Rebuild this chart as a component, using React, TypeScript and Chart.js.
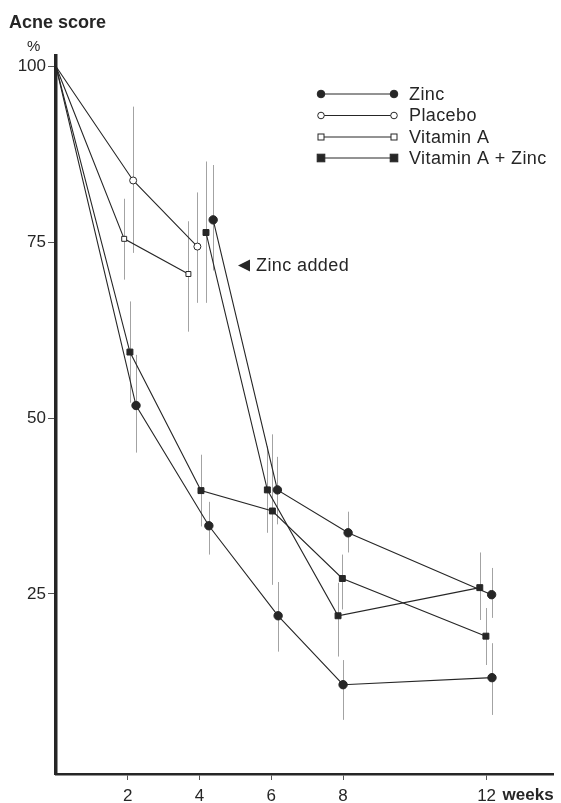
import React, { useEffect, useRef } from 'react';
import { Chart, registerables } from 'chart.js';

Chart.register(...registerables);

// ---- data ----
const xTickValues = [2, 4, 6, 8, 12];
const yTickValues = [25, 50, 75, 100];

const zincWeeks = [0, 2.23, 4.26, 6.19, 8.0, 12.15];
const zincScore = [100, 51.8, 34.7, 21.9, 12.1, 13.1];
const zincLow = [null, 45.1, 30.6, 16.8, 7.1, 7.8];
const zincHigh = [null, 59.0, 38.1, 26.7, 15.6, 18.0];

const vitAZincWeeks = [0, 2.06, 4.04, 6.03, 7.98, 11.98];
const vitAZincScore = [100, 59.4, 39.7, 36.8, 27.2, 19.0];
const vitAZincLow = [null, 52.2, 34.6, 26.3, 22.8, 14.9];
const vitAZincHigh = [null, 66.6, 44.8, 47.7, 30.6, 23.0];

const placeboWeeks = [0, 2.15, 3.94];
const placeboScore = [100, 83.8, 74.4];
const placeboLow = [null, 73.5, 66.4];
const placeboHigh = [null, 94.3, 82.1];

const placeboZincAddedWeeks = [4.38, 6.17, 8.14, 12.14];
const placeboZincAddedScore = [78.2, 39.8, 33.7, 24.9];
const placeboZincAddedLow = [71.0, 34.9, 30.9, 21.6];
const placeboZincAddedHigh = [86.0, 44.5, 36.7, 28.7];

const vitAWeeks = [0, 1.9, 3.69];
const vitAScore = [100, 75.5, 70.5];
const vitALow = [null, 69.7, 62.3];
const vitAHigh = [null, 81.2, 78.0];

const vitAZincAddedWeeks = [4.18, 5.89, 7.86, 11.81];
const vitAZincAddedScore = [76.4, 39.8, 21.9, 25.9];
const vitAZincAddedLow = [66.4, 33.7, 16.1, 21.3];
const vitAZincAddedHigh = [86.5, 46.0, 26.6, 30.9];

const legendLabels = ['Zinc', 'Placebo', 'Vitamin A', 'Vitamin A + Zinc'];

const INK = '#262626';
const FONT = '"Liberation Sans", Arial, Helvetica, sans-serif';

type Series = {
  weeks: number[];
  score: number[];
  low: (number | null)[];
  high: (number | null)[];
  shape: 'circle' | 'rect';
  filled: boolean;
};

const series: Series[] = [
  { weeks: zincWeeks, score: zincScore, low: zincLow, high: zincHigh, shape: 'circle', filled: true },
  { weeks: vitAZincWeeks, score: vitAZincScore, low: vitAZincLow, high: vitAZincHigh, shape: 'rect', filled: true },
  { weeks: placeboWeeks, score: placeboScore, low: placeboLow, high: placeboHigh, shape: 'circle', filled: false },
  { weeks: placeboZincAddedWeeks, score: placeboZincAddedScore, low: placeboZincAddedLow, high: placeboZincAddedHigh, shape: 'circle', filled: true },
  { weeks: vitAWeeks, score: vitAScore, low: vitALow, high: vitAHigh, shape: 'rect', filled: false },
  { weeks: vitAZincAddedWeeks, score: vitAZincAddedScore, low: vitAZincAddedLow, high: vitAZincAddedHigh, shape: 'rect', filled: true },
];

const legendMarkers: { shape: 'circle' | 'rect'; filled: boolean }[] = [
  { shape: 'circle', filled: true },
  { shape: 'circle', filled: false },
  { shape: 'rect', filled: false },
  { shape: 'rect', filled: true },
];

function drawMarker(ctx: CanvasRenderingContext2D, x: number, y: number, shape: string, filled: boolean) {
  ctx.save();
  ctx.lineWidth = 1;
  ctx.strokeStyle = INK;
  ctx.fillStyle = filled ? INK : '#fff';
  if (shape === 'circle') {
    ctx.beginPath();
    ctx.arc(x, y, filled ? 3.8 : 3.3, 0, Math.PI * 2);
    ctx.fill();
    ctx.stroke();
  } else {
    const h = filled ? 3.8 : 3;
    ctx.fillRect(x - h, y - h, 2 * h, 2 * h);
    ctx.strokeRect(x - h, y - h, 2 * h, 2 * h);
  }
  ctx.restore();
}

const errorBarPlugin = {
  id: 'errorBars',
  beforeDatasetsDraw(chart: any) {
    const { ctx, scales } = chart;
    const xs = scales.x;
    const ys = scales.y;
    ctx.save();
    ctx.strokeStyle = '#a3a3a3';
    ctx.lineWidth = 1;
    series.forEach((s) => {
      s.weeks.forEach((w, i) => {
        const lo = s.low[i];
        const hi = s.high[i];
        if (lo == null || hi == null) return;
        const px = Math.round(xs.getPixelForValue(w)) + 0.5;
        ctx.beginPath();
        ctx.moveTo(px, ys.getPixelForValue(hi));
        ctx.lineTo(px, ys.getPixelForValue(lo));
        ctx.stroke();
      });
    });
    ctx.restore();
  },
};

const annotationPlugin = {
  id: 'annotations',
  afterDraw(chart: any) {
    const { ctx, scales } = chart;
    const xs = scales.x;
    ctx.save();
    ctx.fillStyle = INK;
    ctx.textBaseline = 'middle';
    ctx.textAlign = 'left';

    // y axis title
    ctx.font = `bold 18px ${FONT}`;
    ctx.fillText('Acne score', 9, 23);
    ctx.font = `15px ${FONT}`;
    ctx.fillText('%', 27, 47);

    // x axis unit after 12
    ctx.font = `bold 17px ${FONT}`;
    ctx.fillText('weeks', xs.getPixelForValue(12) + 16, chart.chartArea.bottom + 21);

    // Zinc added annotation
    ctx.beginPath();
    ctx.moveTo(238, 265.5);
    ctx.lineTo(250, 259.5);
    ctx.lineTo(250, 271.5);
    ctx.closePath();
    ctx.fill();
    ctx.font = `18px ${FONT}`;
    (ctx as any).letterSpacing = '0.4px';
    ctx.fillText('Zinc added', 256, 266);

    // legend
    const rowY = [94, 115.5, 137, 158];
    legendLabels.forEach((lab, i) => {
      const y = rowY[i];
      ctx.strokeStyle = INK;
      ctx.lineWidth = 1;
      ctx.beginPath();
      ctx.moveTo(321, y);
      ctx.lineTo(394, y);
      ctx.stroke();
      drawMarker(ctx, 321, y, legendMarkers[i].shape, legendMarkers[i].filled);
      drawMarker(ctx, 394, y, legendMarkers[i].shape, legendMarkers[i].filled);
      ctx.fillStyle = INK;
      ctx.font = `18px ${FONT}`;
      ctx.fillText(lab, 409, y + 1);
    });
    ctx.restore();
  },
};

export default function App() {
  const ref = useRef<HTMLCanvasElement>(null);

  useEffect(() => {
    const canvas = ref.current;
    if (!canvas) return;
    Chart.defaults.font.family = FONT;

    const datasets = series.map((s, k) => {
      const r = s.filled ? 4.2 : 3.5;
      return {
        label: 'series' + k,
        data: s.weeks.map((w, i) => ({ x: w, y: s.score[i] })),
        borderColor: INK,
        borderWidth: 1.1,
        backgroundColor: INK,
        pointStyle: s.shape,
        // the week-0 start point carries no marker: lines start on the axis
        pointRadius: s.weeks.map((w) => (w === 0 ? 0 : r)),
        pointBackgroundColor: s.filled ? INK : '#fff',
        pointBorderColor: INK,
        pointBorderWidth: 1,
        fill: false,
        tension: 0,
        clip: false as any,
      };
    });

    const chart = new Chart(canvas, {
      type: 'line',
      data: { datasets: datasets as any },
      options: {
        responsive: false,
        animation: false,
        devicePixelRatio: 1,
        layout: { padding: { top: 56, right: 8, left: 0, bottom: 0 } },
        plugins: { legend: { display: false }, tooltip: { enabled: false } },
        scales: {
          x: {
            type: 'linear',
            min: 0,
            max: 13.85,
            afterBuildTicks: (s: any) => {
              s.ticks = xTickValues.map((v) => ({ value: v }));
            },
            afterFit: (s: any) => {
              s.height = 29;
            },
            grid: { drawOnChartArea: false, drawTicks: true, tickLength: 6, tickColor: '#555', tickWidth: 1 },
            border: { display: true, color: INK, width: 2.5 },
            ticks: { color: '#262626', font: { size: 17 }, padding: 6, maxRotation: 0, autoSkip: false },
          },
          y: {
            type: 'linear',
            min: -0.6,
            max: 101.5,
            afterBuildTicks: (s: any) => {
              s.ticks = yTickValues.map((v) => ({ value: v }));
            },
            afterFit: (s: any) => {
              s.width = 56;
            },
            grid: { drawOnChartArea: false, drawTicks: true, tickLength: 8, tickColor: '#555', tickWidth: 1 },
            border: { display: true, color: INK, width: 3.5 },
            ticks: { color: '#262626', font: { size: 17 }, padding: 2, autoSkip: false },
          },
        },
      },
      plugins: [errorBarPlugin, annotationPlugin],
    });

    return () => chart.destroy();
  }, []);

  return (
    <div style={{ position: 'fixed', left: 0, top: 0, width: 561, height: 803, background: '#fff' }}>
      <canvas ref={ref} width={561} height={803} style={{ display: 'block' }} />
    </div>
  );
}
